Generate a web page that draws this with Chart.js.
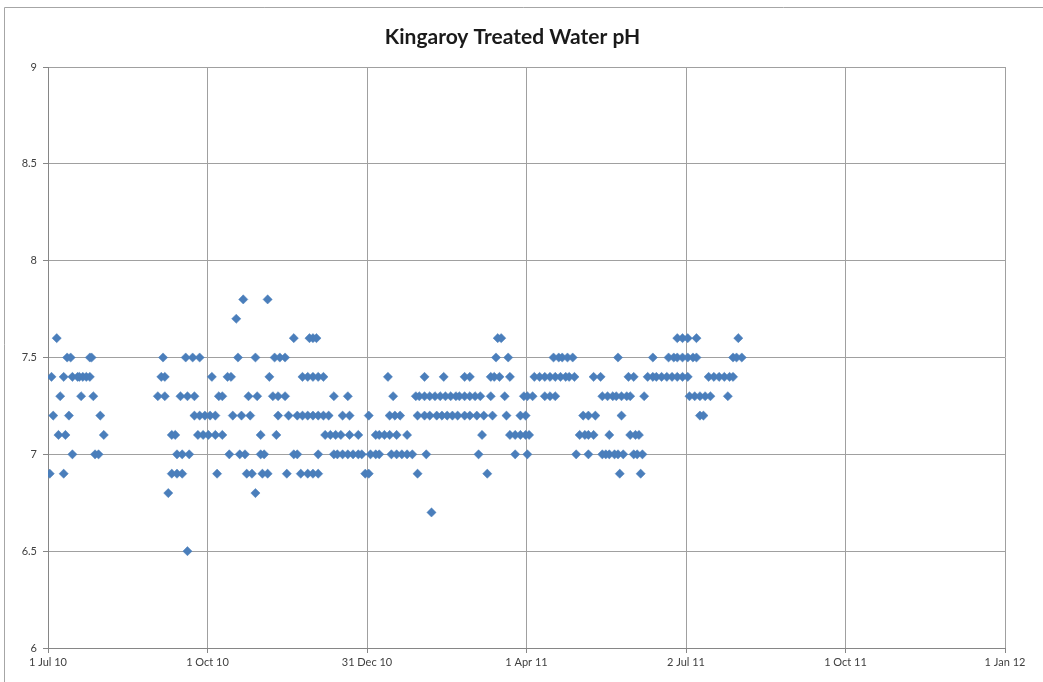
<!DOCTYPE html>
<html>
<head>
<meta charset="utf-8">
<script src="https://cdn.jsdelivr.net/npm/chart.js@4.4.0/dist/chart.umd.min.js"></script>
<style>
  html, body { margin: 0; padding: 0; background: #ffffff; }
  #wrap { width: 1043px; height: 682px; position: relative; }
</style>
</head>
<body>
<div id="wrap"><canvas id="c" width="1043" height="682"></canvas></div>
<script>
// X axis: days since 1 Jul 2010
const xTickDays   = [0, 91.5, 183, 274.5, 366, 457.5, 549];
const xTickLabels = ['1 Jul 10', '1 Oct 10', '31 Dec 10', '1 Apr 11', '2 Jul 11', '1 Oct 11', '1 Jan 12'];

// pH levels and sample days (days since 1 Jul 2010) read at each level
const phLevels = [7.8, 7.7, 7.6, 7.5, 7.4, 7.3, 7.2, 7.1, 7.0, 6.9, 6.8, 6.7, 6.5];
const daysPH78 = [112, 126];
const daysPH77 = [108];
const daysPH76 = [5, 141, 150, 152, 154, 258, 260, 361, 364, 367, 372, 396];
const daysPH75 = [11, 13, 24, 25, 66, 79, 83, 87, 109, 119, 130, 133, 136, 257, 264, 290, 293, 295, 298, 301, 327, 347, 356, 359, 361, 364, 367, 370, 372, 393, 395, 398];
const daysPH74 = [2, 9, 14, 17, 18, 20, 22, 24, 65, 67, 94, 103, 105, 127, 146, 149, 152, 155, 158, 195, 216, 227, 239, 242, 254, 256, 259, 265, 279, 282, 285, 288, 291, 294, 297, 299, 302, 313, 317, 333, 336, 344, 347, 349, 352, 355, 358, 361, 364, 367, 379, 382, 385, 388, 391, 393];
const daysPH73 = [7, 19, 26, 63, 67, 76, 80, 84, 98, 100, 115, 120, 129, 132, 136, 164, 172, 198, 211, 213, 216, 219, 222, 225, 228, 231, 234, 236, 239, 242, 245, 248, 254, 262, 273, 275, 278, 285, 288, 291, 318, 321, 324, 326, 329, 332, 334, 342, 368, 371, 374, 377, 380, 390];
const daysPH72 = [3, 12, 30, 84, 87, 90, 93, 96, 106, 111, 116, 132, 138, 143, 146, 149, 152, 155, 158, 161, 169, 173, 184, 196, 199, 202, 212, 216, 219, 223, 226, 229, 232, 235, 239, 242, 246, 250, 255, 263, 271, 274, 307, 310, 314, 329, 374, 376];
const daysPH71 = [6, 10, 32, 71, 73, 86, 89, 92, 96, 100, 122, 131, 159, 162, 165, 168, 173, 178, 188, 190, 193, 196, 200, 206, 249, 265, 268, 271, 274, 276, 305, 308, 310, 313, 322, 334, 337, 339];
const daysPH70 = [14, 27, 29, 74, 77, 81, 104, 110, 113, 122, 124, 141, 143, 155, 164, 166, 169, 172, 175, 178, 180, 185, 188, 190, 197, 200, 203, 206, 209, 217, 247, 268, 275, 303, 310, 318, 320, 322, 325, 327, 330, 336, 338, 341];
const daysPH69 = [1, 9, 71, 74, 77, 97, 114, 117, 123, 126, 137, 145, 149, 152, 155, 182, 184, 212, 252, 328, 340];
const daysPH68 = [69, 119];
const daysPH67 = [220];
const daysPH65 = [80];

const daysByLevel = [daysPH78, daysPH77, daysPH76, daysPH75, daysPH74, daysPH73, daysPH72, daysPH71, daysPH70, daysPH69, daysPH68, daysPH67, daysPH65];
const points = [];
phLevels.forEach((ph, i) => daysByLevel[i].forEach(d => points.push({ x: d, y: ph })));

const frame = {
  id: 'frame',
  beforeDraw(chart) {
    const ctx = chart.ctx;
    ctx.save();
    ctx.fillStyle = '#ffffff';
    ctx.fillRect(0, 0, chart.width, chart.height);
    ctx.strokeStyle = '#a6a6a6';
    ctx.lineWidth = 1;
    ctx.beginPath();
    ctx.moveTo(4.5, 682);
    ctx.lineTo(4.5, 7.5);
    ctx.lineTo(1043, 7.5);
    ctx.stroke();
    ctx.restore();
  }
};

new Chart(document.getElementById('c'), {
  type: 'scatter',
  data: {
    datasets: [{
      label: 'pH',
      data: points,
      pointStyle: 'rectRot',
      pointRadius: 4.6,
      pointBackgroundColor: '#4a7ebb',
      pointBorderColor: '#4a7ebb',
      pointBorderWidth: 0.5
    }]
  },
  plugins: [frame],
  options: {
    responsive: false,
    animation: false,
    devicePixelRatio: 1,
    layout: { padding: { left: 20, right: 38, top: 0, bottom: 0 } },
    plugins: {
      legend: { display: false },
      tooltip: { enabled: false },
      title: {
        display: true,
        text: 'Kingaroy Treated Water pH',
        color: '#1a1a1a',
        font: { family: 'Lato', size: 21, weight: 'bold', lineHeight: 1.2 },
        padding: { top: 25, bottom: 16.8 }
      }
    },
    scales: {
      x: {
        type: 'linear',
        min: 0,
        max: 549,
        afterBuildTicks: (scale) => { scale.ticks = xTickDays.map(v => ({ value: v })); },
        afterFit: (scale) => { scale.height = 34; },
        ticks: {
          autoSkip: false,
          maxRotation: 0,
          padding: 3,
          color: '#404040',
          font: { family: 'Lato', size: 11 },
          callback: (v, i) => xTickLabels[i]
        },
        grid: { color: '#a0a0a0', lineWidth: 1, tickLength: 5, tickColor: '#868686' },
        border: { color: '#868686' }
      },
      y: {
        min: 6,
        max: 9,
        afterFit: (scale) => { scale.width = 28; },
        ticks: {
          stepSize: 0.5,
          padding: 6,
          color: '#404040',
          font: { family: 'Lato', size: 11 },
          callback: (v) => String(v)
        },
        grid: { color: '#a0a0a0', lineWidth: 1, tickLength: 5, tickColor: '#868686' },
        border: { color: '#868686' }
      }
    }
  }
});
</script>
</body>
</html>
